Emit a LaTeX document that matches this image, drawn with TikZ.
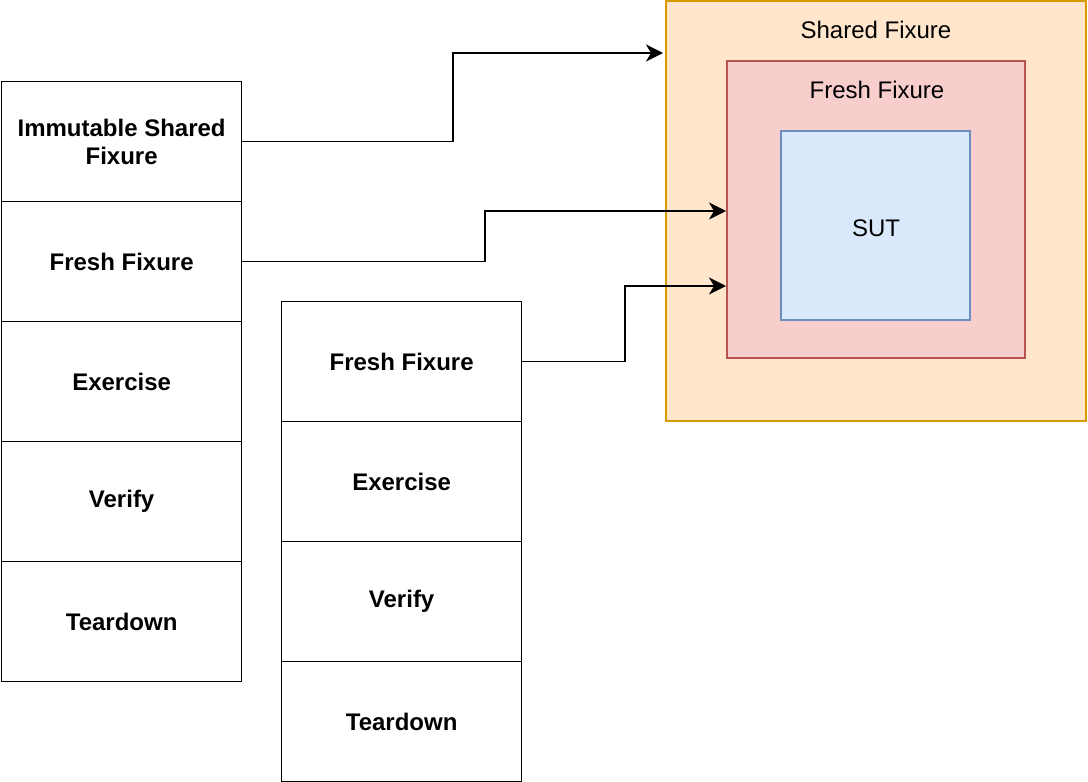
\documentclass[tikz,border=0pt]{standalone}
\usepackage{fontspec}
\setmainfont{Liberation Sans}
\usetikzlibrary{arrows.meta}
\definecolor{orfill}{HTML}{FFE6CC}\definecolor{ordraw}{HTML}{D79B00}
\definecolor{rdfill}{HTML}{F8CECC}\definecolor{rddraw}{HTML}{B85450}
\definecolor{blfill}{HTML}{DAE8FC}\definecolor{bldraw}{HTML}{6C8EBF}
\begin{document}
\begin{tikzpicture}[x=1pt,y=-1pt,
  stepbox/.style={draw=black,line width=1.3pt,minimum width=240pt,minimum height=120pt,inner sep=0pt,font=\fontsize{24}{28}\selectfont\bfseries,align=center,anchor=north west},
  conn/.style={line width=1.5pt,-{Stealth[length=17pt,width=17pt,inset=5pt]}},
  lbl/.style={font=\fontsize{24}{28}\selectfont}]
\useasboundingbox (0,0) rectangle (1088,782);
\draw[fill=orfill,draw=ordraw,line width=1.3pt] (666,1) rectangle (1086,421);
\node[lbl] (shl) at (876,30) {Shared Fixure};
\coordinate (shared) at (663,53);
\draw[fill=rdfill,draw=rddraw,line width=1.3pt] (727,61) rectangle (1025,358);
\node[lbl] (frl) at (877,90) {Fresh Fixure};
\coordinate (freshA) at (726,211);
\coordinate (freshB) at (726,286);
\draw[fill=blfill,draw=bldraw,line width=1.3pt] (781,131) rectangle (970,320);
\node[lbl] (sut) at (876,228) {SUT};
\node[stepbox] (a1) at (1,81) {Immutable Shared\\Fixure};
\node[stepbox] (a2) at (1,201) {Fresh Fixure};
\node[stepbox] (a3) at (1,321) {Exercise};
\node[stepbox] (a4) at (1,441) {Verify};
\node[stepbox] (a5) at (1,561) {Teardown};
\node[stepbox] (b1) at (281,301) {Fresh Fixure};
\node[stepbox] (b2) at (281,421) {Exercise};
\node[stepbox] (b3) at (281,541) {Verify};
\node[stepbox] (b4) at (281,661) {Teardown};
\draw[conn] (a1.east) -| (453,53) -- (shared);
\draw[conn] (a2.east) -| (485,211) -- (freshA);
\draw[conn] (b1.east) -| (625,286) -- (freshB);
\end{tikzpicture}
\end{document}
